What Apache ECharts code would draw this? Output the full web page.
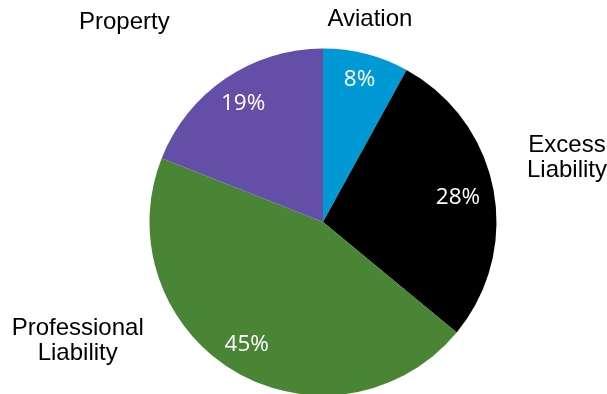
<!DOCTYPE html>
<html>
<head>
<meta charset="utf-8">
<script src="https://cdn.jsdelivr.net/npm/echarts@6/dist/echarts.min.js"></script>
<style>
  html, body { margin: 0; padding: 0; background: #fff; }
  #chart { width: 607px; height: 394px; }
</style>
</head>
<body>
<div id="chart"></div>
<script>
// Share of premium by line of business (percent), clockwise from 12 o'clock
const categories = ['Aviation', 'Excess\nLiability', 'Professional\nLiability', 'Property'];
const shares = [8, 28, 45, 19];
const colors = ['#0099D5', '#000000', '#4A8536', '#644FA8'];

// Nudges for the labels relative to their slice-centred anchor
const pctOffsets = [[1, -3.5], [-5.5, 2], [-3.5, 0], [0.5, -0.5]];
const nameOffsets = [[-16, 42], [-4.5, -16.5], [-116.5, -99], [-56.5, 9.5]];

const center = [323, 222];

const chart = echarts.init(document.getElementById('chart'), null, { renderer: 'canvas' });

const hidden = { color: 'rgba(0,0,0,0)', borderWidth: 0 };

chart.setOption({
  animation: false,
  series: [
    {
      // visible slices
      type: 'pie',
      center: center,
      radius: [0, 173.5],
      startAngle: 90,
      clockwise: true,
      silent: true,
      label: { show: false },
      labelLine: { show: false },
      itemStyle: { borderWidth: 0 },
      data: categories.map((n, i) => ({ name: n, value: shares[i], itemStyle: { color: colors[i] } }))
    },
    {
      // percentage labels inside the slices
      type: 'pie',
      center: center,
      radius: [0, 280],
      startAngle: 90,
      clockwise: true,
      silent: true,
      z: 3,
      itemStyle: hidden,
      labelLine: { show: false },
      label: {
        show: true,
        position: 'inside',
        formatter: p => p.value + '%',
        color: '#ffffff',
        fontFamily: 'Open Sans',
        fontSize: 22.5
      },
      data: categories.map((n, i) => ({
        name: n, value: shares[i],
        label: { offset: pctOffsets[i] }
      }))
    },
    {
      // category names around the pie
      type: 'pie',
      center: center,
      radius: [0, 500],
      startAngle: 90,
      clockwise: true,
      silent: true,
      z: 3,
      itemStyle: hidden,
      labelLine: { show: false },
      label: {
        show: true,
        position: 'inside',
        formatter: p => p.name,
        color: '#000000',
        fontFamily: 'Liberation Sans',
        fontSize: 24,
        lineHeight: 25.5,
        align: 'center'
      },
      data: categories.map((n, i) => ({
        name: n, value: shares[i],
        label: { offset: nameOffsets[i] }
      }))
    }
  ]
});
</script>
</body>
</html>
